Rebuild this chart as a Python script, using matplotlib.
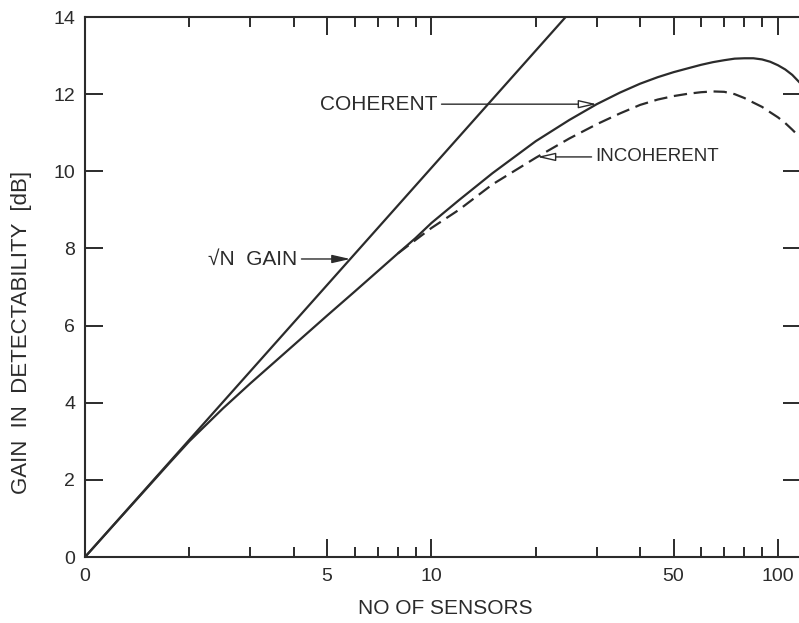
import numpy as np
import matplotlib.pyplot as plt
from matplotlib.ticker import FixedLocator, NullFormatter

# fonts: sans with a fallback for the root sign
plt.rcParams['font.family'] = ['Liberation Sans', 'DejaVu Sans']

ink = '#2b2b2b'

# sqrt(N) gain line (straight on the log axis)
sqrt_n = [1, 24.4]
sqrt_gain = [0, 14]

# coherent gain
coh_n = [1, 1.25, 1.5, 1.75, 2, 2.5, 3, 3.5, 4, 5, 6, 7, 8, 9, 10, 12, 15, 20, 25, 30, 35,
         40, 45, 50, 55, 60, 65, 70, 75, 80, 85, 90, 95, 100, 105, 110, 117]
coh_gain = [0, 0.97, 1.76, 2.43, 3.0, 3.85, 4.5, 5.03, 5.49, 6.26, 6.88, 7.41, 7.87, 8.27,
            8.66, 9.25, 9.95, 10.78, 11.33, 11.74, 12.04, 12.27, 12.44, 12.57, 12.67, 12.76,
            12.83, 12.88, 12.92, 12.93, 12.93, 12.9, 12.84, 12.75, 12.64, 12.5, 12.25]

# incoherent gain (dashed), splits off the coherent curve near N=8
inc_n = [8, 9, 10, 12, 15, 20, 25, 30, 35, 40, 45, 50, 55, 60, 65, 70, 75, 80, 85, 90, 95,
         100, 105, 110, 117]
inc_gain = [7.87, 8.22, 8.53, 9.0, 9.66, 10.35, 10.85, 11.22, 11.5, 11.72, 11.86, 11.95,
            12.01, 12.05, 12.07, 12.06, 12.0, 11.9, 11.78, 11.67, 11.53, 11.4, 11.25, 11.08,
            10.84]

xtick_pos = [1, 5, 10, 50, 100]
xtick_lab = ['0', '5', '10', '50', '100']
xminor = [2, 3, 4, 6, 7, 8, 9, 20, 30, 40, 60, 70, 80, 90]
yticks = [0, 2, 4, 6, 8, 10, 12, 14]

fig = plt.figure(figsize=(7.99, 6.23), dpi=100)
ax = fig.add_axes([85 / 799, 1 - 557 / 623, 716 / 799, 540 / 623])

ax.plot(sqrt_n, sqrt_gain, color=ink, lw=1.6)
ax.plot(coh_n, coh_gain, color=ink, lw=1.6)
ax.plot(inc_n, inc_gain, color=ink, lw=1.6, linestyle=(0, (6, 3)))

ax.set_xscale('log')
ax.set_xlim(1, 116.6)
ax.set_ylim(0, 14)

ax.xaxis.set_major_locator(FixedLocator(xtick_pos))
ax.set_xticklabels(xtick_lab)
ax.xaxis.set_minor_locator(FixedLocator(xminor))
ax.xaxis.set_minor_formatter(NullFormatter())
ax.set_yticks(yticks)

ax.tick_params(axis='both', which='major', direction='in', length=13, width=1.4,
               top=True, right=True, labelsize=14, colors=ink)
ax.tick_params(axis='x', which='major', pad=8)
ax.tick_params(axis='y', which='major', pad=7)
ax.tick_params(axis='x', which='minor', direction='in', length=7, width=1.4, top=True,
               colors=ink)
for s in ax.spines.values():
    s.set_linewidth(1.5)
    s.set_color(ink)

ax.set_xlabel('NO OF SENSORS', fontsize=15, color=ink)
ax.set_ylabel('GAIN  IN  DETECTABILITY  [dB]', fontsize=16, color=ink)
ax.xaxis.set_label_coords(0.503, -0.078)
ax.yaxis.set_label_coords(-0.074, 0.415)

# arrow tips sit on the curves
def on_curve(n, xs, ys):
    return np.interp(np.log10(n), np.log10(xs), ys)

arrow_open = dict(arrowstyle='-|>,head_length=1.1,head_width=0.25', color=ink, lw=1.0,
                  fc='white', shrinkA=1, shrinkB=0, mutation_scale=10)
arrow_full = dict(arrowstyle='-|>,head_length=1.1,head_width=0.25', color=ink, lw=1.0,
                  shrinkA=1, shrinkB=0, mutation_scale=10)

y_c = on_curve(30, coh_n, coh_gain)
ax.annotate('COHERENT', xy=(30, y_c), xytext=(10.4, y_c), ha='right', va='center',
            fontsize=15, color=ink, arrowprops=arrow_open)

y_i = on_curve(20.2, inc_n, inc_gain)
ax.annotate('INCOHERENT', xy=(20.2, y_i), xytext=(29.8, y_i), ha='left', va='center',
            fontsize=13.5, color=ink, arrowprops=arrow_open)

y_s = on_curve(5.83, sqrt_n, sqrt_gain)
ax.annotate('√N  GAIN', xy=(5.83, y_s), xytext=(4.1, y_s), ha='right', va='center',
            fontsize=15, color=ink, arrowprops=arrow_full)

fig.savefig('out.png', dpi=100)
